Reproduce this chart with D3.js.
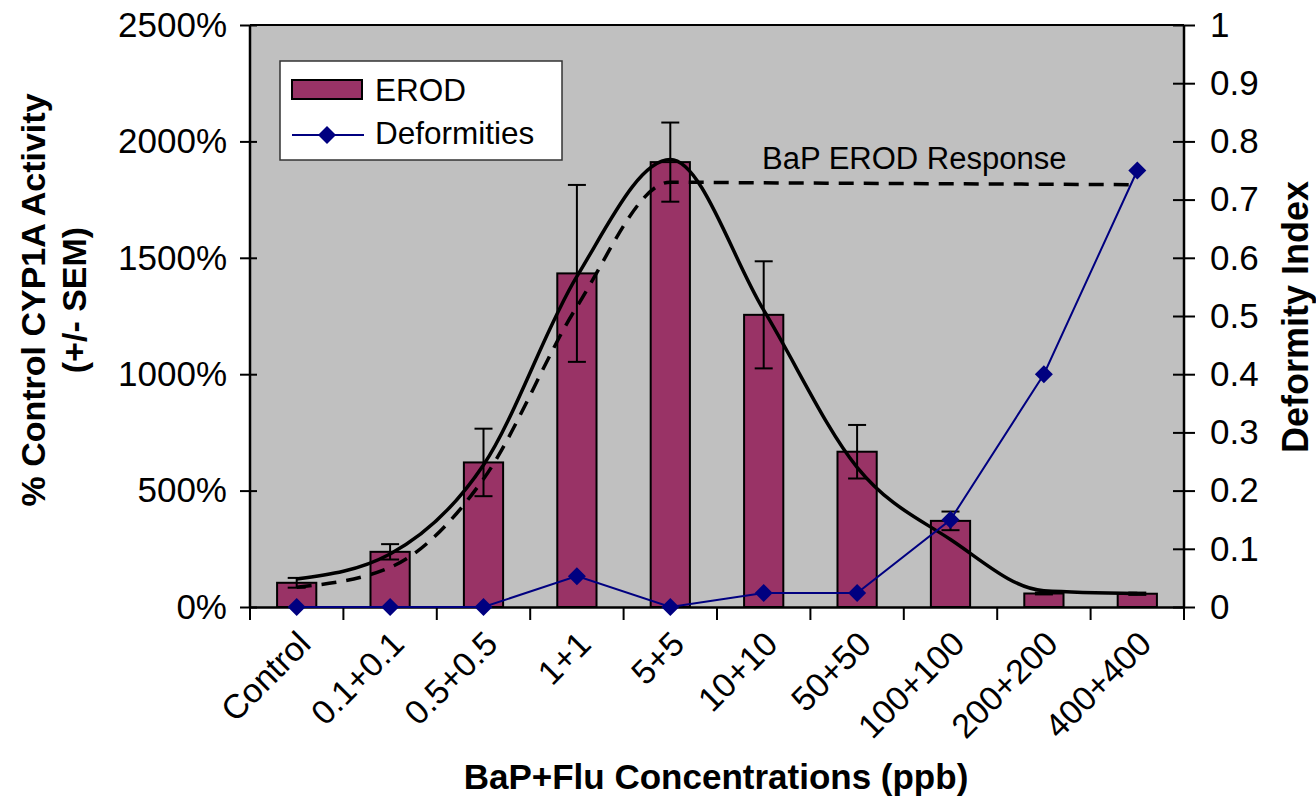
<!DOCTYPE html>
<html>
<head>
<meta charset="utf-8">
<script src="https://cdn.jsdelivr.net/npm/d3@7"></script>
<style>
  body { margin: 0; background: #ffffff; }
  svg { display: block; font-family: "Liberation Sans", Arial, sans-serif; }
</style>
</head>
<body>
<svg id="chart" width="1316" height="802"></svg>
<script>
// ---------- data ----------
const categories = ["Control", "0.1+0.1", "0.5+0.5", "1+1", "5+5", "10+10", "50+50", "100+100", "200+200", "400+400"];
const erod = [104, 237, 621, 1433, 1911, 1255, 667, 370, 58, 57];
const erodSem = [21, 33, 145, 380, 170, 230, 115, 40, 4, 5];
const deformity = [0, 0, 0, 0.053, 0, 0.024, 0.024, 0.15, 0.40, 0.75];
const fitCurve = [120, 228, 610, 1420, 1922, 1275, 600, 290, 70, 58];
const bapCurve = [85, 170, 550, 1290, 1825, 1822, 1820, 1818, 1816, 1814];
const leftTicks = [0, 500, 1000, 1500, 2000, 2500];
const rightTicks = [0, 0.1, 0.2, 0.3, 0.4, 0.5, 0.6, 0.7, 0.8, 0.9, 1];

// ---------- layout ----------
const L = 250, R = 1184, T = 25, B = 607;
const svg = d3.select("#chart");
const x = d3.scaleBand().domain(categories).range([L, R]);
const yL = d3.scaleLinear().domain([0, 2500]).range([B, T]);
const yR = d3.scaleLinear().domain([0, 1]).range([B, T]);
const cx = c => x(c) + x.bandwidth() / 2;

// plot background
svg.append("rect").attr("x", L).attr("y", T).attr("width", R - L).attr("height", B - T)
  .attr("fill", "#c0c0c0");
// top border
svg.append("line").attr("x1", L).attr("x2", R).attr("y1", T).attr("y2", T)
  .attr("stroke", "#000").attr("stroke-width", 2);

// bars
const bw = x.bandwidth() * 0.42;
svg.append("g").selectAll("rect").data(categories).join("rect")
  .attr("x", (c) => cx(c) - bw / 2)
  .attr("y", (c, i) => yL(erod[i]))
  .attr("width", bw)
  .attr("height", (c, i) => B - yL(erod[i]))
  .attr("fill", "#993366")
  .attr("stroke", "#000")
  .attr("stroke-width", 2);

// error bars
const eg = svg.append("g").attr("stroke", "#000").attr("stroke-width", 2);
categories.forEach((c, i) => {
  const xc = cx(c), lo = yL(erod[i] - erodSem[i]), hi = yL(erod[i] + erodSem[i]);
  eg.append("line").attr("x1", xc).attr("x2", xc).attr("y1", lo).attr("y2", hi);
  eg.append("line").attr("x1", xc - 9).attr("x2", xc + 9).attr("y1", lo).attr("y2", lo);
  eg.append("line").attr("x1", xc - 9).attr("x2", xc + 9).attr("y1", hi).attr("y2", hi);
});

// fitted curve (solid)
const lineL = d3.line().x((d, i) => cx(categories[i])).y(d => yL(d)).curve(d3.curveMonotoneX);
svg.append("path").datum(fitCurve).attr("d", lineL)
  .attr("fill", "none").attr("stroke", "#000").attr("stroke-width", 3.5);
// BaP curve (dashed)
svg.append("path").datum(bapCurve).attr("d", lineL)
  .attr("fill", "none").attr("stroke", "#000").attr("stroke-width", 3.5)
  .attr("stroke-dasharray", "15,10");

// axes
const axL = svg.append("g").attr("transform", `translate(${L},0)`)
  .call(d3.axisLeft(yL).tickValues(leftTicks).tickFormat(d => d + "%").tickSize(10).tickPadding(13));
axL.selectAll(".tick line").attr("x2", -10).attr("x1", 7);
const axR = svg.append("g").attr("transform", `translate(${R},0)`)
  .call(d3.axisRight(yR).tickValues(rightTicks).tickFormat(d => d3.format("")(+d.toFixed(1))).tickSize(11).tickPadding(15));
axR.selectAll(".tick line").attr("x1", -11).attr("x2", 11);
const axB = svg.append("g").attr("transform", `translate(0,${B})`)
  .call(d3.axisBottom(x).tickValues([]).tickSizeOuter(0));
// category boundary ticks
svg.append("g").selectAll("line").data(d3.range(categories.length + 1)).join("line")
  .attr("x1", i => L + i * x.step()).attr("x2", i => L + i * x.step())
  .attr("y1", B).attr("y2", B + 13).attr("stroke", "#000").attr("stroke-width", 2);

[axL, axR, axB].forEach(a => {
  a.select(".domain").attr("stroke", "#000").attr("stroke-width", 2.5);
  a.selectAll(".tick line").attr("stroke", "#000").attr("stroke-width", 2);
  a.selectAll(".tick text").attr("fill", "#000").attr("font-size", 35)
    .attr("font-family", "'Liberation Sans', Arial, sans-serif");
});
axL.select(".domain").attr("d", `M0,${B}V${T}`);
axR.select(".domain").attr("d", `M0,${B}V${T}`);

// category labels
svg.append("g").selectAll("text").data(categories).join("text")
  .attr("transform", c => `translate(${cx(c) + 16},${646}) rotate(-45)`)
  .attr("text-anchor", "end")
  .attr("font-size", 34)
  .attr("fill", "#000")
  .text(c => c);

// deformities line
const lineR = d3.line().x((d, i) => cx(categories[i])).y(d => yR(d));
svg.append("path").datum(deformity).attr("d", lineR)
  .attr("fill", "none").attr("stroke", "#000080").attr("stroke-width", 2);
svg.append("g").selectAll("path").data(deformity).join("path")
  .attr("transform", (d, i) => `translate(${cx(categories[i])},${yR(d)})`)
  .attr("d", "M0,-9L9,0L0,9L-9,0Z")
  .attr("fill", "#000080");

// annotation
svg.append("text").attr("x", 762).attr("y", 169).attr("font-size", 31).attr("fill", "#000")
  .text("BaP EROD Response");

// legend
const lg = svg.append("g");
lg.append("rect").attr("x", 280).attr("y", 61).attr("width", 282).attr("height", 99)
  .attr("fill", "#fff").attr("stroke", "#333").attr("stroke-width", 1.5);
lg.append("rect").attr("x", 292).attr("y", 80).attr("width", 70).attr("height", 19)
  .attr("fill", "#993366").attr("stroke", "#000").attr("stroke-width", 2);
lg.append("text").attr("x", 375).attr("y", 101).attr("font-size", 31.5).attr("fill", "#000").text("EROD");
lg.append("line").attr("x1", 292).attr("x2", 364).attr("y1", 135).attr("y2", 135)
  .attr("stroke", "#000080").attr("stroke-width", 2);
lg.append("path").attr("transform", "translate(327,135)").attr("d", "M0,-9L9,0L0,9L-9,0Z").attr("fill", "#000080");
lg.append("text").attr("x", 375).attr("y", 144).attr("font-size", 31.5).attr("fill", "#000").text("Deformities");

// axis titles
svg.append("text").attr("transform", "translate(45,300) rotate(-90)")
  .attr("text-anchor", "middle").attr("font-size", 34).attr("font-weight", "bold").attr("fill", "#000")
  .text("% Control CYP1A Activity");
svg.append("text").attr("transform", "translate(86,300) rotate(-90)")
  .attr("text-anchor", "middle").attr("font-size", 34).attr("font-weight", "bold").attr("fill", "#000")
  .text("(+/- SEM)");
svg.append("text").attr("transform", "translate(1308,317) rotate(-90)")
  .attr("text-anchor", "middle").attr("font-size", 36).attr("font-weight", "bold").attr("fill", "#000")
  .text("Deformity Index");
svg.append("text").attr("x", 716).attr("y", 789)
  .attr("text-anchor", "middle").attr("font-size", 35).attr("font-weight", "bold").attr("fill", "#000")
  .text("BaP+Flu Concentrations (ppb)");
</script>
</body>
</html>
